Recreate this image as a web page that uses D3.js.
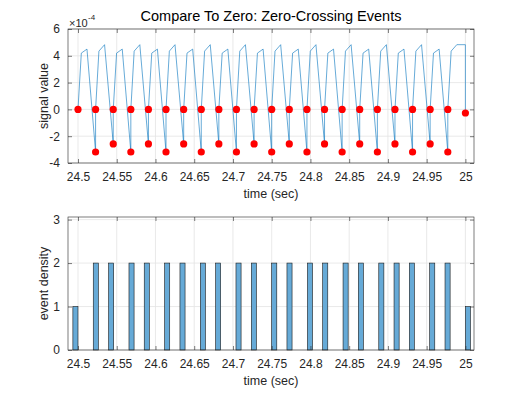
<!DOCTYPE html>
<html>
<head>
<meta charset="utf-8">
<script src="https://cdn.jsdelivr.net/npm/d3@7"></script>
<style>
  body { margin: 0; background: #fff; }
  text { font-family: "Liberation Sans", Arial, sans-serif; }
</style>
</head>
<body>
<div id="container"></div>
<script>
let w = 525;
let h = 394;

// zero-crossing event times (sec)
let zeroT = [24.5000, 24.5227, 24.5455, 24.5682, 24.5909, 24.6136, 24.6364, 24.6591,
  24.6818, 24.7045, 24.7273, 24.7500, 24.7727, 24.7955, 24.8182, 24.8409,
  24.8636, 24.8864, 24.9091, 24.9318, 24.9545, 24.9773, 25.0000];
// signal samples inside each cycle (values in units of 1e-4)
let riseT = [24.5043, 24.5270, 24.5498, 24.5725, 24.5952, 24.6179, 24.6407, 24.6634,
  24.6861, 24.7088, 24.7316, 24.7543, 24.7770, 24.7998, 24.8225, 24.8452,
  24.8679, 24.8907, 24.9134, 24.9361, 24.9588, 24.9816];
let riseV = [4.2, 4.35, 4.2, 4.35, 4.2, 4.35, 4.2, 4.35, 4.2, 4.35, 4.2, 4.35,
  4.2, 4.35, 4.2, 4.35, 4.2, 4.35, 4.2, 4.35, 4.2, 4.35];
let peakT = [24.5116, 24.5343, 24.5571, 24.5798, 24.6025, 24.6252, 24.6480, 24.6707,
  24.6934, 24.7161, 24.7389, 24.7616, 24.7843, 24.8071, 24.8298, 24.8525,
  24.8752, 24.8980, 24.9207, 24.9434, 24.9661, 24.9889];
let peakV = [4.5, 4.83, 4.5, 4.83, 4.5, 4.83, 4.5, 4.83, 4.5, 4.83, 4.5, 4.83,
  4.5, 4.83, 4.5, 4.83, 4.5, 4.83, 4.5, 4.83, 4.5, 4.83];
// value just after each crossing (events 1..22)
let lowV = [-3.18, -2.58, -3.18, -2.58, -3.18, -2.58, -3.18, -2.58, -3.18, -2.58, -3.18,
  -2.58, -3.18, -2.58, -3.18, -2.58, -3.18, -2.58, -3.18, -2.58, -3.18, -0.27];
let endV = 4.83;

// histogram bins
let binLeft = [24.4934, 24.5197, 24.5395, 24.5658, 24.5855, 24.6118, 24.6316, 24.6579,
  24.6776, 24.7039, 24.7237, 24.7500, 24.7697, 24.7961, 24.8158, 24.8421,
  24.8618, 24.8882, 24.9079, 24.9276, 24.9539, 24.9737, 25.0000];
let binCount = [1, 2, 2, 2, 2, 2, 2, 2, 2, 2, 2, 2, 2, 2, 2, 2, 2, 2, 2, 2, 2, 2, 1];
let binWidth = 0.00658;

let xTicks = [24.5, 24.55, 24.6, 24.65, 24.7, 24.75, 24.8, 24.85, 24.9, 24.95, 25];
let yTicksTop = [-4, -2, 0, 2, 4, 6];
let yTicksBot = [0, 1, 2, 3];

// build the signal polyline
let sig = [];
for (let k = 0; k < riseT.length; k++) {
  sig.push([zeroT[k], 0]);
  sig.push([riseT[k], riseV[k]]);
  sig.push([peakT[k], peakV[k]]);
  if (k < riseT.length - 1) {
    sig.push([zeroT[k + 1], lowV[k]]);
  } else {
    sig.push([zeroT[k + 1], endV]);
    sig.push([zeroT[k + 1], lowV[k]]);
  }
}

let ink = '#262626';
let gridCol = '#e3e3e3';
let L = 68, R = 474;

let viz = d3.select('#container').append('svg')
  .attr('width', w)
  .attr('height', h);

let x = d3.scaleLinear().domain([24.4871, 25.0111]).range([L, R]);

function frame(top, bottom, y, yTicks) {
  let g = viz.append('g');
  // grid
  g.selectAll('.gx').data(xTicks).enter().append('line')
    .attr('x1', d => x(d)).attr('x2', d => x(d))
    .attr('y1', top).attr('y2', bottom)
    .attr('stroke', gridCol).attr('stroke-width', 0.8);
  g.selectAll('.gy').data(yTicks).enter().append('line')
    .attr('x1', L).attr('x2', R)
    .attr('y1', d => y(d)).attr('y2', d => y(d))
    .attr('stroke', gridCol).attr('stroke-width', 0.8);
  return g;
}

function axes(top, bottom, y, yTicks) {
  let g = viz.append('g');
  let ax = g.append('g').attr('transform', 'translate(0,' + bottom + ')')
    .call(d3.axisBottom(x).tickValues(xTicks).tickSize(-4).tickPadding(9)
      .tickFormat(d => String(+d.toFixed(2))));
  let axT = g.append('g').attr('transform', 'translate(0,' + top + ')')
    .call(d3.axisTop(x).tickValues(xTicks).tickSize(-4).tickFormat(''));
  let ay = g.append('g').attr('transform', 'translate(' + L + ',0)')
    .call(d3.axisLeft(y).tickValues(yTicks).tickSize(-4).tickPadding(8)
      .tickFormat(d => String(d)));
  let ayR = g.append('g').attr('transform', 'translate(' + R + ',0)')
    .call(d3.axisRight(y).tickValues(yTicks).tickSize(-4).tickFormat(''));
  [ax, axT, ay, ayR].forEach(a => {
    a.select('.domain').remove();
    a.selectAll('line').attr('stroke', ink).attr('stroke-width', 0.6);
    a.selectAll('text').attr('fill', ink).attr('font-size', '12px')
      .attr('font-family', '"Liberation Sans", Arial, sans-serif');
  });
  g.append('rect')
    .attr('x', L).attr('y', top).attr('width', R - L).attr('height', bottom - top)
    .attr('fill', 'none').attr('stroke', ink).attr('stroke-width', 0.6);
}

// ---------- top panel ----------
let t1 = 29, b1 = 163;
let y1 = d3.scaleLinear().domain([-4, 6]).range([b1, t1]);
frame(t1, b1, y1, yTicksTop);

viz.append('path')
  .datum(sig)
  .attr('d', d3.line().x(d => x(d[0])).y(d => y1(d[1])))
  .attr('fill', 'none')
  .attr('stroke', '#0072BD')
  .attr('stroke-width', 0.6);

viz.selectAll('.z').data(zeroT.slice(0, 22)).enter().append('circle')
  .attr('cx', d => x(d)).attr('cy', y1(0)).attr('r', 3.6)
  .attr('fill', '#ff0000');
viz.selectAll('.lo').data(lowV).enter().append('circle')
  .attr('cx', (d, i) => x(zeroT[i + 1])).attr('cy', d => y1(d)).attr('r', 3.6)
  .attr('fill', '#ff0000');

axes(t1, b1, y1, yTicksTop);

viz.append('text').text('×10').attr('x', 69).attr('y', 27)
  .attr('font-size', '11px').attr('fill', ink);
viz.append('text').text('-4').attr('x', 88).attr('y', 20)
  .attr('font-size', '8px').attr('fill', ink);

viz.append('text').text('Compare To Zero: Zero-Crossing Events')
  .attr('x', (L + R) / 2).attr('y', 21)
  .attr('text-anchor', 'middle').attr('font-size', '14.5px').attr('fill', '#000');

viz.append('text').text('time (sec)')
  .attr('x', (L + R) / 2).attr('y', 198)
  .attr('text-anchor', 'middle').attr('font-size', '12.5px').attr('fill', ink);
viz.append('text').text('signal value')
  .attr('transform', 'translate(48,' + (t1 + b1) / 2 + ') rotate(-90)')
  .attr('text-anchor', 'middle').attr('font-size', '12.5px').attr('fill', ink);

// ---------- bottom panel ----------
let t2 = 217, b2 = 350;
let y2 = d3.scaleLinear().domain([0, 3.06]).range([b2, t2]);
frame(t2, b2, y2, yTicksBot);

viz.selectAll('.bar').data(binLeft).enter().append('rect')
  .attr('x', d => x(d))
  .attr('y', (d, i) => y2(binCount[i]))
  .attr('width', d => x(d + binWidth) - x(d))
  .attr('height', (d, i) => y2(0) - y2(binCount[i]))
  .attr('fill', 'rgb(102,170,215)')
  .attr('stroke', '#1a1a1a')
  .attr('stroke-width', 0.6);

axes(t2, b2, y2, yTicksBot);

viz.append('text').text('time (sec)')
  .attr('x', (L + R) / 2).attr('y', 385)
  .attr('text-anchor', 'middle').attr('font-size', '12.5px').attr('fill', ink);
viz.append('text').text('event density')
  .attr('transform', 'translate(48,' + (t2 + b2) / 2 + ') rotate(-90)')
  .attr('text-anchor', 'middle').attr('font-size', '12.5px').attr('fill', ink);
</script>
</body>
</html>
